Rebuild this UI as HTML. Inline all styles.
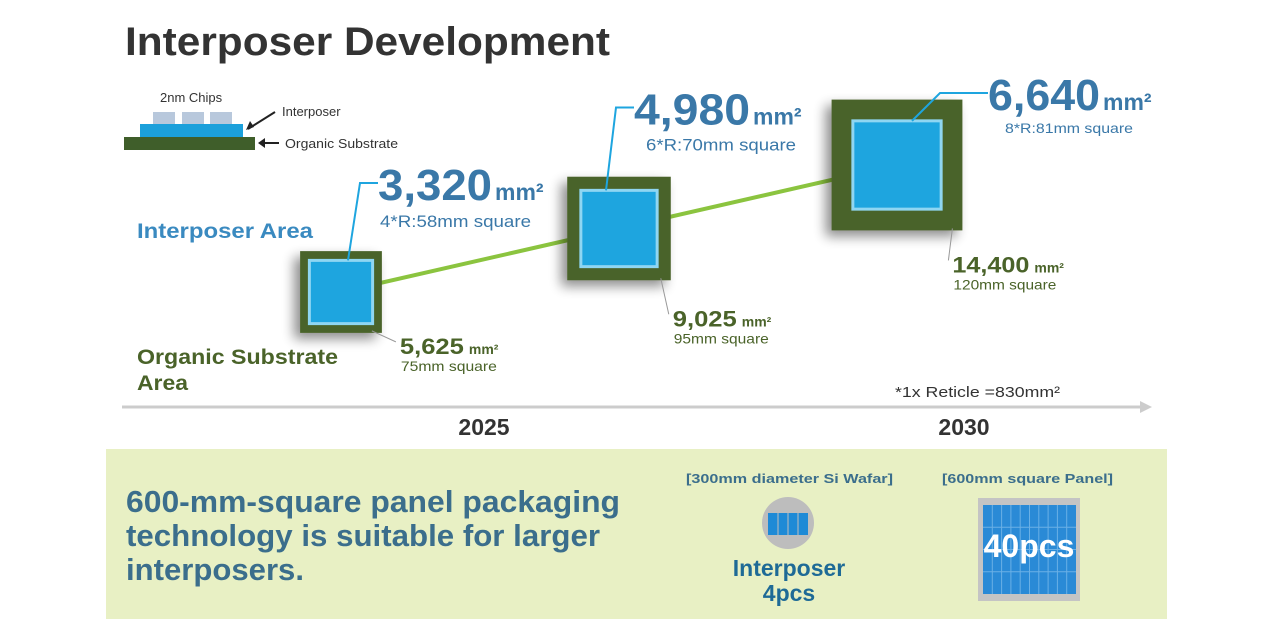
<!DOCTYPE html>
<html><head><meta charset="utf-8">
<style>
html,body{margin:0;padding:0;background:#fff;}
svg{display:block;font-family:"Liberation Sans","DejaVu Sans",sans-serif;}
</style></head>
<body>
<svg id="chart" width="1280" height="640" viewBox="0 0 1280 640" xmlns="http://www.w3.org/2000/svg">
<defs>
<filter id="sh" x="-30%" y="-30%" width="160%" height="160%"><feGaussianBlur in="SourceAlpha" stdDeviation="6"/><feOffset dx="-6" dy="6"/><feComponentTransfer><feFuncA type="linear" slope="0.45"/></feComponentTransfer><feMerge><feMergeNode/><feMergeNode in="SourceGraphic"/></feMerge></filter>
</defs>
<text x="125" y="55" font-size="40" font-weight="bold" fill="#333" textLength="485" lengthAdjust="spacingAndGlyphs">Interposer Development</text>
<g>
<rect x="153" y="112" width="22" height="12" fill="#b8c8dc"/><rect x="182" y="112" width="22" height="12" fill="#b8c8dc"/><rect x="210" y="112" width="22" height="12" fill="#b8c8dc"/>
<rect x="140" y="124" width="103" height="13" fill="#1ba0db"/>
<rect x="124" y="137" width="131" height="13" fill="#3f5e2a"/>
<text x="160" y="102" font-size="13" fill="#333">2nm Chips</text>
<text x="282" y="116" font-size="13" fill="#333">Interposer</text>
<text x="285" y="148" font-size="13" fill="#333" textLength="113" lengthAdjust="spacingAndGlyphs">Organic Substrate</text>
<line x1="275" y1="112" x2="248" y2="129" stroke="#222" stroke-width="2"/><path d="M246 130 l4 -9 l4 6z" fill="#222"/>
<line x1="279" y1="143" x2="262" y2="143" stroke="#222" stroke-width="2"/><path d="M258 143 l7 -5 v10z" fill="#222"/>
</g>
<text x="137" y="238" font-size="21" font-weight="bold" fill="#3a8ac0" textLength="176" lengthAdjust="spacingAndGlyphs">Interposer Area</text>
<text x="137" y="364" font-size="21" font-weight="bold" fill="#4a6329" textLength="201" lengthAdjust="spacingAndGlyphs">Organic Substrate</text>
<text x="137" y="390" font-size="21" font-weight="bold" fill="#4a6329" textLength="51" lengthAdjust="spacingAndGlyphs">Area</text>
<g>
<line x1="122" y1="407" x2="1142" y2="407" stroke="#ccc" stroke-width="3"/>
<path d="M1152 407 l-12 -6 v12z" fill="#ccc"/>
<text x="895" y="397" font-size="15" fill="#333" textLength="165" lengthAdjust="spacingAndGlyphs">*1x Reticle =830mm²</text>
<text x="484" y="435" font-size="23" font-weight="bold" fill="#333" text-anchor="middle">2025</text>
<text x="964" y="435" font-size="23" font-weight="bold" fill="#333" text-anchor="middle">2030</text>
</g>
<g id="marks"></g>
<g>
<rect x="106" y="449" width="1061" height="170" fill="#e8f0c4"/>
<text x="126" y="512" font-size="31" font-weight="bold" fill="#3b6e8c" textLength="494" lengthAdjust="spacingAndGlyphs">600-mm-square panel packaging</text>
<text x="126" y="546" font-size="31" font-weight="bold" fill="#3b6e8c" textLength="474" lengthAdjust="spacingAndGlyphs">technology is suitable for larger</text>
<text x="126" y="580" font-size="31" font-weight="bold" fill="#3b6e8c" textLength="178" lengthAdjust="spacingAndGlyphs">interposers.</text>
<text x="686" y="483" font-size="13" font-weight="bold" fill="#3b6e8c" textLength="207" lengthAdjust="spacingAndGlyphs">[300mm diameter Si Wafar]</text>
<circle cx="788" cy="523" r="26" fill="#bdbdbd"/>
<rect x="768" y="513" width="40" height="22" fill="#1e8ad6"/>
<line x1="778" y1="513" x2="778" y2="535" stroke="#bdbdbd"/><line x1="788" y1="513" x2="788" y2="535" stroke="#bdbdbd"/><line x1="798" y1="513" x2="798" y2="535" stroke="#bdbdbd"/>
<text x="789" y="576" font-size="23" font-weight="bold" fill="#1e6a96" text-anchor="middle">Interposer</text>
<text x="789" y="601" font-size="23" font-weight="bold" fill="#1e6a96" text-anchor="middle">4pcs</text>
<text x="942" y="483" font-size="13" font-weight="bold" fill="#3b6e8c" textLength="171" lengthAdjust="spacingAndGlyphs">[600mm square Panel]</text>
<rect x="978" y="498" width="102" height="103" fill="#c4c4c4"/>
<g id="panelgrid"><rect x="983" y="505" width="93" height="89" fill="#2a8ad6"/></g>
<text x="1029" y="557" font-size="32" font-weight="bold" fill="#fff" text-anchor="middle">40pcs</text>
</g>
</svg>
<script>
const labels = ["2025", "2027", "2030"];
const interposerArea = [3320, 4980, 6640];
const interposerNote = ["4*R:58mm square", "6*R:70mm square", "8*R:81mm square"];
const interposerSide = [58, 70, 81];
const substrateArea = [5625, 9025, 14400];
const substrateSide = [75, 95, 120];
const substrateNote = ["75mm square", "95mm square", "120mm square"];

// layout offsets (label placement, not data)
const LBL = [
  {dx:37, dy:-92, nw:114, note:151, nfs:17, nx:2, ny:27, lx:348, sdx:18, sdy:21, sw:64, sn:96},
  {dx:15, dy:-104, nw:116, note:150, nfs:17, nx:12, ny:26, lx:606, sdx:2, sdy:46, sw:64, sn:95},
  {dx:91, dy:-55, nw:112, note:128, nfs:14, nx:17, ny:23, lx:912, sdx:-10, sdy:42, sw:77, sn:103}
];

const NS = "http://www.w3.org/2000/svg";
const g = document.getElementById("marks");
function mk(tag, attrs, parent){const e=document.createElementNS(NS,tag);for(const k in attrs)e.setAttribute(k,attrs[k]);(parent||g).appendChild(e);return e;}
const xPos = i => 341 + i * 278;
const yPos = i => 292 - i * 63.5;
const sz = mm => mm * 1.09;
const fmt = v => v.toLocaleString("en-US");

for (let i = 0; i < labels.length - 1; i++) {
  const l = mk("line", {x1:xPos(i), y1:yPos(i), x2:xPos(i+1), y2:yPos(i+1), stroke:"#8bc43f", "stroke-width":4});
  
  
}
labels.forEach((lab, i) => {
  const L = LBL[i];
  const cx = xPos(i), cy = yPos(i), so = sz(substrateSide[i]), si = sz(interposerSide[i]);
  const grp = mk("g", {});
  
  
  mk("rect", {x:cx-so/2, y:cy-so/2, width:so, height:so, fill:"#4a6329", filter:"url(#sh)"}, grp);
  mk("rect", {x:cx-si/2, y:cy-si/2, width:si, height:si, fill:"#1ea5df", stroke:"#8fd6f2", "stroke-width":3}, grp);
  const tx = cx + L.dx, base = cy + L.dy, ly = base - 17;
  mk("polyline", {points:`${L.lx},${cy-si/2} ${tx-(i===2?48:18)},${ly} ${tx},${ly}`, fill:"none", stroke:"#1ea5df", "stroke-width":2}, grp);
  const t1 = mk("text", {x:tx, y:base, "font-size":44, "font-weight":"bold", fill:"#3a78a8", textLength:L.nw, lengthAdjust:"spacingAndGlyphs"}, grp);
  
  
  t1.textContent = fmt(interposerArea[i]);
  const u = mk("text", {x:tx+L.nw+3, y:base, "font-size":23, "font-weight":"bold", fill:"#3a78a8"}, grp);
  u.textContent = "mm²";
  const t2 = mk("text", {x:tx+L.nx, y:base+L.ny, "font-size":L.nfs, fill:"#3a78a8", textLength:L.note, lengthAdjust:"spacingAndGlyphs"}, grp);
  t2.textContent = interposerNote[i];
  const bx = cx + so/2, by = cy + so/2;
  const sx = bx + L.sdx, sb = by + L.sdy;
  mk("polyline", {points:`${bx-10},${by-2} ${sx-4},${sb-12}`, fill:"none", stroke:"#999", "stroke-width":1}, grp);
  const t3 = mk("text", {x:sx, y:sb, "font-size":22, "font-weight":"bold", fill:"#4a6329", textLength:L.sw, lengthAdjust:"spacingAndGlyphs"}, grp);
  
  
  t3.textContent = fmt(substrateArea[i]);
  const u2 = mk("text", {x:sx+L.sw+5, y:sb, "font-size":14, "font-weight":"bold", fill:"#4a6329"}, grp);
  u2.textContent = "mm²";
  const t4 = mk("text", {x:sx+1, y:sb+17, "font-size":14, fill:"#4a6329", textLength:L.sn, lengthAdjust:"spacingAndGlyphs"}, grp);
  t4.textContent = substrateNote[i];
});
const pg = document.getElementById("panelgrid");
for (let c = 1; c < 10; c++) mk("line", {x1:983+c*9.3, y1:505, x2:983+c*9.3, y2:594, stroke:"#6ab0e6", "stroke-width":1}, pg);
for (let r = 1; r < 4; r++) mk("line", {x1:983, y1:505+r*22.25, x2:1076, y2:505+r*22.25, stroke:"#6ab0e6", "stroke-width":1}, pg);
</script>
</body></html>
